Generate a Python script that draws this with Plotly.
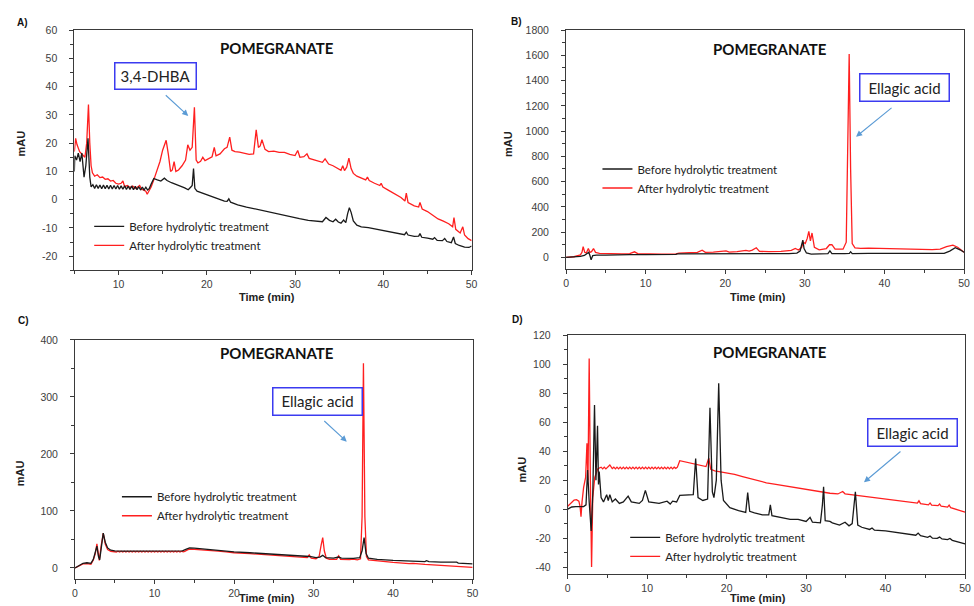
import plotly.graph_objects as go

# ---------------- DATA (time in min, absorbance in mAU) ----------------
A_BEFORE = [(5.0,10),(5.05,15.5),(5.25,14),(5.45,16.5),(5.65,13.5),(5.85,16.5),(6.1,8),(6.3,12),(6.55,21.7),(6.75,8),(6.9,4.5),
    (7.1,5.3),(7.3,4.0),(7.5,5.3),(7.7,4.0),(7.9,5.2),(8.1,3.9),(8.3,5.2),(8.5,3.9),(8.7,5.1),(8.9,3.8),(9.1,5.1),(9.3,3.8),
    (9.5,5.0),(9.7,3.8),(9.9,5.0),(10.1,3.7),(10.3,4.9),(10.5,3.7),(10.7,4.9),(10.9,3.6),(11.1,4.8),(11.3,3.6),(11.5,4.8),
    (11.7,3.5),(11.9,4.7),(12.1,3.5),(12.3,4.6),(12.5,3.4),(12.7,4.5),(12.9,3.4),(13.1,4.4),(13.3,3.4),(13.5,4.0),(13.7,5.5),
    (14.0,7.5),(14.4,7.0),(14.8,6.6),(15.2,7.6),(15.5,6.8),(16.0,6.0),(16.5,5.3),(17.0,4.8),(17.5,4.2),(17.9,3.5),(18.2,4.5),
    (18.35,5.0),(18.5,11.0),(18.65,4.0),(18.9,3.0),(19.5,2.3),(20.0,1.6),(20.5,1.0),(21.0,0.5),(21.5,0.0),(22.0,-0.5),(22.3,-0.6),
    (22.5,0.3),(22.7,-0.9),(23.5,-1.8),(24.5,-2.6),(25.5,-3.3),(26.5,-4.0),(27.5,-4.8),(28.5,-5.4),(29.5,-6.0),(30.5,-6.7),
    (31.5,-7.3),(32.5,-7.7),(33.1,-7.8),(33.5,-6.3),(33.9,-7.3),(34.3,-7.8),(34.6,-6.9),(34.9,-7.9),(35.2,-8.3),(35.5,-7.2),
    (35.75,-8.1),(35.95,-5.0),(36.15,-2.8),(36.35,-4.5),(36.6,-7.5),(37.0,-9.0),(37.5,-9.6),(38.3,-9.9),(39.0,-10.3),(40.0,-11.0),
    (41.0,-11.6),(42.0,-12.2),(42.4,-12.4),(42.6,-11.5),(42.8,-12.5),(43.5,-13.0),(44.0,-12.9),(44.15,-12.0),(44.35,-13.3),
    (45.0,-13.6),(45.6,-14.0),(45.8,-13.4),(46.1,-14.4),(46.7,-14.5),(46.95,-13.7),(47.2,-14.8),(47.7,-15.2),(47.95,-13.2),
    (48.15,-15.5),(48.6,-16.2),(49.2,-16.8),(49.7,-16.9),(50.0,-16.4)]

A_AFTER = [(5.0,17),(5.15,21.7),(5.3,19.5),(5.6,17),(5.9,16),(6.2,15),(6.4,20),(6.6,33.7),(6.75,20),(6.9,12),(7.05,9.5),
    (7.3,8.3),(7.6,8.8),(7.9,7.8),(8.2,8.0),(8.5,7.2),(8.8,7.4),(9.1,6.6),(9.4,6.8),(9.7,5.8),(10.0,5.5),(10.3,5.8),(10.5,6.6),
    (10.7,4.6),(11.0,5.0),(11.3,4.3),(11.6,4.8),(11.9,4.0),(12.2,4.6),(12.4,5.0),(12.6,3.8),(12.9,3.3),(13.1,3.0),(13.25,1.9),
    (13.45,3.0),(13.7,4.5),(14.0,7.0),(14.3,9.5),(14.7,13.5),(15.0,17.5),(15.4,21.0),(15.65,16),(15.9,10),(16.1,10.5),(16.3,13.5),
    (16.5,10.0),(16.8,10.5),(17.2,12),(17.6,14),(17.85,19.4),(18.1,17.5),(18.35,18.5),(18.6,32.7),(18.8,14),(19.0,13),(19.3,13.6),
    (19.55,15),(19.8,13.8),(20.2,14.5),(20.6,15.2),(20.85,18.5),(21.05,15.5),(21.5,16.2),(22.0,18.0),(22.3,18.5),(22.6,22.1),
    (22.85,17.5),(23.2,17),(23.7,16.8),(24.2,16.5),(24.8,16.0),(25.3,16.2),(25.6,24.7),(25.85,18.5),(26.05,19),(26.25,21.2),
    (26.6,17.8),(27.0,17),(27.6,17.2),(28.2,16.7),(28.8,16.7),(29.4,16.0),(30.0,15.6),(30.3,17.4),(30.55,15.0),(31.0,15.2),
    (31.35,16.2),(31.6,14.6),(32.2,14.0),(32.8,13.6),(33.1,13.2),(33.4,14.4),(33.8,12.6),(34.3,12.0),(34.8,11.0),(35.2,10.4),
    (35.4,12.0),(35.6,10.3),(35.85,11.5),(36.1,14.7),(36.35,11),(36.6,9.3),(37.0,8.3),(37.6,7.6),(38.0,7.0),(38.2,8.0),(38.4,6.8),
    (39.0,5.8),(39.6,5.0),(39.75,5.8),(39.95,4.5),(40.6,3.3),(41.3,2.0),(42.0,0.8),(42.45,-0.5),(42.6,2.3),(42.8,-1.0),(43.5,-2.2),
    (44.0,-2.6),(44.15,-1.0),(44.4,-3.3),(45.0,-4.2),(45.6,-5.5),(46.2,-6.8),(46.8,-7.6),(47.4,-8.5),(47.85,-9.6),(48.0,-6.3),
    (48.2,-10.5),(48.7,-11.8),(49.0,-9.6),(49.2,-12.5),(49.6,-13.8),(50.0,-14.5)]

B_BEFORE = [(0,0),(1,2),(1.8,8),(2.3,15),(2.7,30),(2.85,40),(3.0,15),(3.15,-20),(3.35,15),(3.8,18),(5,18),(6,20),(8,21),
    (10,22),(12,22),(13.8,24),(14,28),(16,28),(18,27),(20,28),(22,27),(24,28),(26,28),(28,30),(29,34),(29.4,50),(29.6,100),
    (29.75,136),(29.9,70),(30.2,35),(30.8,25),(32,26),(32.9,30),(33.15,52),(33.4,30),(35,30),(35.6,32),(35.75,45),(35.95,30),
    (38,32),(40,32),(42,30),(44,29),(46,28),(47.5,32),(48.2,50),(48.9,76),(49.5,60),(50,40)]

B_AFTER = [(0,0),(1,5),(1.8,20),(2.0,40),(2.15,84),(2.35,40),(2.55,35),(2.8,70),(3.0,40),(3.2,45),(3.45,70),(3.7,40),
    (4.2,32),(5,30),(6,28),(7,28),(8,30),(8.6,44),(9.0,30),(10,27),(12,26),(13.8,28),(14.2,34),(15.5,38),(16.5,40),(17.1,57),
    (17.5,40),(18.5,42),(19.5,45),(20.1,52),(20.5,42),(21.5,45),(22.6,55),(23.0,50),(23.4,58),(23.9,76),(24.3,48),(25.5,45),
    (27,48),(28.3,55),(28.8,70),(29.2,58),(29.6,80),(29.8,120),(30.05,110),(30.3,150),(30.5,206),(30.7,130),(30.9,193),
    (31.2,80),(31.8,60),(32.7,70),(33.1,100),(33.4,100),(33.8,65),(34.8,65),(35.2,120),(35.4,800),(35.57,1611),(35.75,700),
    (35.95,110),(36.3,75),(37,72),(38,74),(39,72),(40,70),(41,70),(42,68),(43,68),(44,66),(45,64),(46,62),(47,66),(47.8,85),
    (48.6,97),(49.2,80),(50,40)]

C_BEFORE = [(0,0),(0.5,4),(1,8),(1.5,9),(2,8),(2.3,15),(2.6,28),(2.75,38),(2.95,20),(3.1,14),(3.3,35),(3.55,61),(3.8,45),
    (4.1,35),(4.5,31),(5,30),(6,29.5),(8,29.5),(10,29.5),(12,29.5),(13.5,30),(14,33),(14.4,35),(15,34.5),(16,33),(17,32),
    (18,31),(19,29.5),(20,28),(22,26.5),(24,25),(26,23.5),(28,21.5),(29.5,20),(30.3,18),(30.8,19),(31.15,22),(31.5,18),
    (32.5,17),(33.15,19),(33.5,17),(35,16.5),(35.8,18),(36.1,30),(36.35,53),(36.6,25),(36.9,17),(38,15),(40,13),(42,12),
    (44,11),(44.2,12.5),(44.5,11),(46,10),(47.8,9),(48,10),(48.2,8.5),(50,7)]

C_AFTER = [(0,0),(0.5,3),(1,7),(1.5,7.5),(2,6.5),(2.3,14),(2.55,25),(2.75,42),(2.9,22),(3.05,13),(3.3,40),(3.55,61),
    (3.8,42),(4.1,32),(4.5,29),(4.8,28.5),
    (5.0,29.3),(5.2,27.9),(5.4,29.3),(5.6,27.9),(5.8,29.3),(6.0,27.9),(6.2,29.3),(6.4,27.9),(6.6,29.3),(6.8,27.9),(7.0,29.3),
    (7.2,27.9),(7.4,29.3),(7.6,27.9),(7.8,29.3),(8.0,27.9),(8.2,29.3),(8.4,27.9),(8.6,29.3),(8.8,27.9),(9.0,29.3),(9.2,27.9),
    (9.4,29.3),(9.6,27.9),(9.8,29.3),(10.0,27.9),(10.2,29.3),(10.4,27.9),(10.6,29.3),(10.8,27.9),(11.0,29.3),(11.2,27.9),
    (11.4,29.3),(11.6,27.9),(11.8,29.3),(12.0,27.9),(12.2,29.3),(12.4,27.9),(12.6,29.3),(12.8,27.9),(13.0,29.3),(13.2,27.9),
    (13.4,29.3),(13.6,28.2),(13.8,29),(14.2,32),(14.6,33),(15.2,32.5),(16,31.5),(17,30.5),(18,29.5),(19,28),(20,26.5),(22,25),
    (24,23),(26,21.5),(28,19.5),(29.2,18),(29.45,22.6),(29.7,17),(30.3,16),(30.7,20),(30.95,40),(31.15,53),(31.35,30),
    (31.6,17),(32,15),(32.9,15),(33.15,21),(33.4,15),(34.5,14.5),(35,15.5),(35.5,14),(35.9,16),(36.1,90),(36.27,359),
    (36.45,90),(36.65,20),(36.9,14),(38,12),(38.4,12.5),(40,9.5),(42,7.5),(42.5,8),(44,6),(46,4.5),(48,3),(50,1)]

D_BEFORE = [(0,0),(0.5,1.5),(1,1.8),(2,1.8),(2.3,3),(2.5,27),(2.7,5),(2.95,-15),(3.15,10),(3.37,72),(3.55,20),(3.75,57.6),
    (3.87,17),(3.96,26),(4.2,8),(4.5,5),(4.9,10),(5.1,6),(5.3,10),(5.6,5),(6.0,7),(6.5,4),(7.0,5),(7.6,9),(8.0,5),(9.0,4),
    (9.4,6),(9.77,13),(10.2,5),(10.8,4.5),(11.5,4),(12.5,5.5),(12.9,3.5),(13.2,5.5),(13.7,5),(14.1,9.5),(15.0,9.8),(15.8,10),
    (16.1,35),(16.4,8),(17.0,6),(17.6,7),(17.9,70),(18.2,12),(18.4,8),(18.7,20),(19.0,87),(19.3,20),(19.6,6),(20.4,1),(21.5,-1),
    (22.4,-2.3),(22.65,11.4),(22.9,-1.5),(23.5,-2.5),(24.5,-4),(25.3,-4),(25.5,3),(25.7,-4.5),(27,-6),(28,-7),(29,-7),
    (30.0,-8.5),(30.5,-5.7),(30.8,-9),(31.8,-9.5),(32.05,3),(32.2,15.5),(32.4,-8),(33.0,-8.5),(33.3,-9.5),(34.2,-11),(34.9,-9),
    (35.4,-11.5),(35.8,-10),(36.2,12),(36.5,-11),(37.0,-12.5),(38.0,-14),(38.3,-13),(38.6,-14.5),(40,-15),(42,-16.5),
    (43.8,-18),(44.1,-16.5),(44.4,-18.3),(45.3,-19.5),(45.6,-18.5),(45.9,-20),(46.5,-20.2),(46.8,-19.3),(47.1,-20.6),(47.8,-21),
    (48.1,-20.2),(48.4,-21.5),(49.2,-22.8),(50,-24)]

D_AFTER = [(0,2),(0.4,4.5),(0.8,6.3),(1.1,6.6),(1.4,5.5),(1.55,2),(1.67,-5.2),(1.8,5),(2.0,15),(2.25,22),(2.42,45.5),
    (2.55,20),(2.7,104),(2.85,20),(3.0,-40),(3.15,8),(3.4,22),(3.8,28),
    (4.0,28.6),(4.2,29.0),(4.4,27.8),(4.6,29.0),(4.8,27.8),(5.0,29.2),(5.3,30.5),(5.6,28.0),(5.8,29.0),(6.0,27.8),(6.2,29.0),
    (6.4,27.8),(6.6,29.0),(6.8,27.8),(7.0,29.0),(7.2,27.8),(7.4,29.0),(7.6,27.8),(7.8,29.0),(8.0,27.8),(8.2,29.0),(8.4,27.8),
    (8.6,29.0),(8.8,27.8),(9.0,29.0),(9.2,27.8),(9.4,29.0),(9.6,27.8),(9.8,29.0),(10.0,27.8),(10.2,29.0),(10.4,27.8),(10.6,29.0),
    (10.8,27.8),(11.0,29.0),(11.2,27.8),(11.4,29.0),(11.6,27.8),(11.8,29.0),(12.0,27.8),(12.2,29.0),(12.4,27.8),(12.6,29.0),
    (12.8,27.8),(13.0,29.0),(13.2,27.8),(13.4,29.0),(13.6,28.2),(13.8,29),(14.1,33.5),(14.5,33),(15.0,32.5),(15.5,31.8),
    (16.1,31),(16.8,30),(17.4,29.4),(17.75,35.3),(18.0,27.5),(18.5,26.5),(19.0,26),(20,25.2),(21,24),(22,22.5),(23,21),(24,19.5),
    (25,18.2),(26,17.3),(27,16.4),(28,15.3),(29,14.2),(30,13.2),(31,12.3),(32,11.6),(33,11.0),(34,10.5),(34.6,12.2),(34.9,10.6),
    (36,9.8),(37,9.0),(38,8.3),(39,8),(40,7.3),(41,6.5),(42,5.6),(43,4.8),(44,4.2),(44.2,5.8),(44.4,3.8),(45.4,3.0),(45.6,4.3),
    (45.8,2.8),(46.6,2.4),(46.8,3.5),(47.0,2.0),(47.8,1.4),(48.0,2.8),(48.2,1.0),(49,-0.5),(50,-2)]

SERIES_NAMES = ["Before hydrolytic treatment", "After hydrolytic treatment"]
PANEL_LABELS = ["A)", "B)", "C)", "D)"]
TITLE_TEXT = "POMEGRANATE"
PEAK_LABELS = ["3,4-DHBA", "Ellagic acid", "Ellagic acid", "Ellagic acid"]

X_TICKS = [0, 10, 20, 30, 40, 50]
Y_TICKS = {
    "A": [-20, -10, 0, 10, 20, 30, 40, 50, 60],
    "B": [0, 200, 400, 600, 800, 1000, 1200, 1400, 1600, 1800],
    "C": [0, 100, 200, 300, 400],
    "D": [-40, -20, 0, 20, 40, 60, 80, 100, 120],
}
Y_MINOR = {"A": 5, "B": 100, "C": 50, "D": 10}
X_RANGE = {"A": [5, 50], "B": [0, 50], "C": [0, 50], "D": [0, 50]}
Y_RANGE = {"A": [-25, 60], "B": [-95, 1800], "C": [-20, 400], "D": [-45, 120]}

# ---------------- LAYOUT (pixel geometry of the 974x606 page) ----------------
W, H = 974, 606
def px(x): return x / W
def py(y): return 1 - y / H

BLACK = "#1a1a1a"
RED = "#ff1f1f"
AXIS = "#3a3a3a"
BOXBLUE = "#3b3bf0"
ARROW = "#5b9bd5"

plot_px = {  # left, right, top, bottom
    "A": (72, 473, 24.3, 267),
    "B": (568.3, 970, 24.3, 266),
    "C": (72.7, 474, 337.3, 579),
    "D": (570, 971, 332.7, 574),
}
legend_px = {"A": (129, 217), "B": (642, 159), "C": (157, 490), "D": (670, 531)}
label_px = {"A": (12, 17), "B": (511, 16), "C": (13, 318), "D": (512, 317)}
title_px = {"A": (277, 42), "B": (774.5, 43), "C": (277, 350.7), "D": (774, 349)}
ylab_px = {"A": (18, 139), "B": (509, 139), "C": (17, 472), "D": (524, 468)}
xlab_px = {"A": (266, 294), "B": (762.5, 294), "C": (266, 598), "D": (762.5, 598)}
box_px = {"A": (113, 195, 57, 84), "B": (865, 955, 68, 96.3), "C": (272.7, 362.7, 385.7, 413.3), "D": (872.7, 962.7, 416.7, 445)}
arrow_px = {  # head (x,y), tail (x,y)
    "A": ((187, 111), (163, 89)),
    "B": ((861, 132), (898, 102)),
    "C": ((347, 440), (323, 418)),
    "D": ((869, 481), (907, 449)),
}

data = {"A": (A_BEFORE, A_AFTER), "B": (B_BEFORE, B_AFTER), "C": (C_BEFORE, C_AFTER), "D": (D_BEFORE, D_AFTER)}

fig = go.Figure()
annotations = []
layout = dict(
    width=W, height=H, autosize=False,
    margin=dict(l=0, r=0, t=0, b=0),
    paper_bgcolor="white", plot_bgcolor="white",
    showlegend=True,
)

tick_font = dict(family="Liberation Sans, Arial, sans-serif", size=10.5, color="#404040")
lat = "Lato, 'Noto Sans', sans-serif"

for i, key in enumerate(["A", "B", "C", "D"]):
    n = "" if i == 0 else str(i + 1)
    before, after = data[key]
    leg = "legend" + n
    # red first so the black trace is drawn on top (as in the original)
    fig.add_trace(go.Scatter(
        x=[p[0] for p in after], y=[p[1] for p in after], mode="lines",
        line=dict(color=RED, width=1.3), name=SERIES_NAMES[1],
        xaxis="x" + n, yaxis="y" + n, legend=leg, hoverinfo="x+y"))
    fig.add_trace(go.Scatter(
        x=[p[0] for p in before], y=[p[1] for p in before], mode="lines",
        line=dict(color=BLACK, width=1.3), name=SERIES_NAMES[0],
        xaxis="x" + n, yaxis="y" + n, legend=leg, hoverinfo="x+y"))

    l, r, t, b = plot_px[key]
    xt = [v for v in X_TICKS if X_RANGE[key][0] <= v <= X_RANGE[key][1]]
    layout["xaxis" + n] = dict(
        domain=[px(l), px(r)], range=X_RANGE[key], anchor="y" + n,
        showline=True, linecolor=AXIS, linewidth=1, mirror=True,
        showgrid=False, zeroline=False,
        tickmode="array", tickvals=xt, ticktext=[str(v) for v in xt],
        ticks="outside", ticklen=4, tickcolor=AXIS, tickfont=tick_font,
        minor=dict(tickmode="linear", tick0=0, dtick=5, ticks="outside", ticklen=3, tickcolor=AXIS),
        fixedrange=True,
    )
    yt = Y_TICKS[key]
    layout["yaxis" + n] = dict(
        domain=[py(b), py(t)], range=Y_RANGE[key], anchor="x" + n,
        showline=True, linecolor=AXIS, linewidth=1, mirror=True,
        showgrid=False, zeroline=False,
        tickmode="array", tickvals=yt, ticktext=[str(v) for v in yt],
        ticks="outside", ticklen=4, tickcolor=AXIS, tickfont=tick_font,
        ticklabelstandoff=10,
        minor=dict(tickmode="linear", tick0=0, dtick=Y_MINOR[key], ticks="outside", ticklen=3, tickcolor=AXIS),
        fixedrange=True,
    )
    lx, ly = legend_px[key]
    layout[leg] = dict(
        x=px(lx - 42), y=py(ly - 9), xanchor="left", yanchor="top",
        bgcolor="rgba(0,0,0,0)", borderwidth=0, traceorder="reversed",
        font=dict(family=lat, size=11.5, color="#222"), itemwidth=30,
    )

    # panel letter
    x0, y0 = label_px[key]
    annotations.append(dict(text="<b>%s</b>" % PANEL_LABELS[i], x=px(x0), y=py(y0), xref="paper", yref="paper",
                            xanchor="left", yanchor="middle", showarrow=False,
                            font=dict(family="Liberation Sans, Arial", size=10, color="#111")))
    # title
    x0, y0 = title_px[key]
    annotations.append(dict(text="<b>%s</b>" % TITLE_TEXT, x=px(x0), y=py(y0), xref="paper", yref="paper",
                            xanchor="center", yanchor="middle", showarrow=False,
                            font=dict(family=lat, size=15, color="#111")))
    # axis titles
    x0, y0 = ylab_px[key]
    annotations.append(dict(text="<b>mAU</b>", x=px(x0), y=py(y0), xref="paper", yref="paper",
                            xanchor="center", yanchor="middle", showarrow=False, textangle=-90,
                            font=dict(family="Liberation Sans, Arial", size=11, color="#222")))
    x0, y0 = xlab_px[key]
    annotations.append(dict(text="<b>Time (min)</b>", x=px(x0), y=py(y0), xref="paper", yref="paper",
                            xanchor="center", yanchor="middle", showarrow=False,
                            font=dict(family="Liberation Sans, Arial", size=11, color="#222")))
    # peak label box
    bl, br, bt, bb = box_px[key]
    annotations.append(dict(text=PEAK_LABELS[i], x=px((bl + br) / 2), y=py((bt + bb) / 2), xref="paper", yref="paper",
                            xanchor="center", yanchor="middle", showarrow=False,
                            width=br - bl - 4, height=bb - bt - 4, borderpad=1,
                            bordercolor=BOXBLUE, borderwidth=1.5, bgcolor="white",
                            font=dict(family=lat, size=15, color="#222")))
    # arrow
    (hx, hy), (tx, ty) = arrow_px[key]
    annotations.append(dict(text="", x=px(hx), y=py(hy), xref="paper", yref="paper",
                            showarrow=True, ax=tx - hx, ay=ty - hy, axref="pixel", ayref="pixel",
                            arrowhead=2, arrowsize=1.1, arrowwidth=1.1, arrowcolor=ARROW, standoff=0))

layout["annotations"] = annotations
fig.update_layout(**layout)
fig.write_html("out.html")
